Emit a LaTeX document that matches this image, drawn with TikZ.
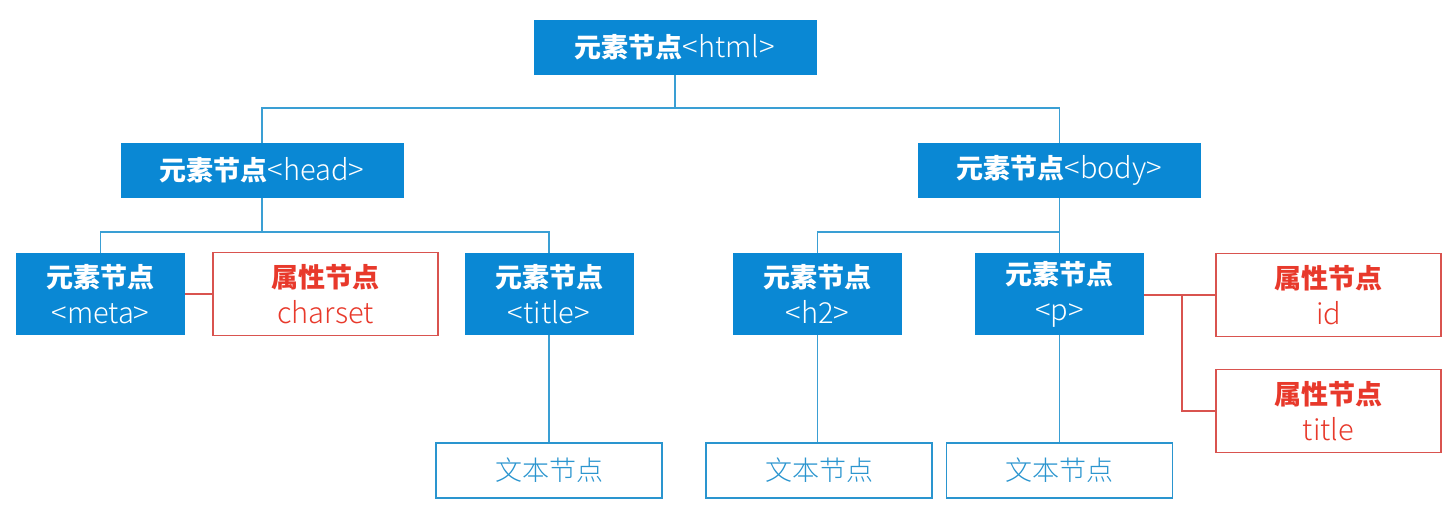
\documentclass[tikz,border=0pt]{standalone}
\usepackage{fontspec}
\setmainfont{Noto Sans CJK SC}
\newfontfamily\latfont{Noto Sans CJK SC Light}
\newcommand{\lat}[1]{{\latfont\fontsize{29}{35}\selectfont #1}}
\definecolor{elemblue}{HTML}{0A88D4}
\definecolor{lineblue}{HTML}{3A9FD4}
\definecolor{attrred}{HTML}{E8392B}
\definecolor{attrline}{HTML}{D9534F}
\definecolor{textblue}{HTML}{2A95CF}
\begin{document}
\begin{tikzpicture}[x=1pt,y=-1pt,
  base/.style={inner sep=0pt, align=center, font=\fontsize{27}{36}\selectfont},
  elem/.style={base, fill=elemblue, text=white},
  attr/.style={base, draw=attrline, line width=1.5pt, fill=white, text=attrred, minimum width=225pt, minimum height=83pt},
  textnode/.style={base, draw=textblue, line width=1.5pt, text=textblue, minimum width=226pt, minimum height=55pt},
  small/.style={minimum width=169pt, minimum height=82pt},
  wide/.style={minimum width=283pt, minimum height=55pt},
  bl/.style={draw=lineblue, line width=1.3pt},
  rl/.style={draw=attrline, line width=1.3pt}]
\useasboundingbox (0,0) rectangle (1453,510);
\fill[white] (0,0) rectangle (1453,510);
% nodes
\node[elem, wide] (html) at (675,47.5) {\textbf{元素节点}\lat{<html>}};
\node[elem, wide] (head) at (262,170.5) {\textbf{元素节点}\lat{<head>}};
\node[elem, wide] (body) at (1059.5,170.5) {\textbf{元素节点}\lat{<body>}};
\node[elem, small] (meta) at (100.5,294) {\textbf{元素节点}\\\lat{<meta>}};
\node[attr] (charset) at (325.5,294) {\textbf{属性节点}\\\lat{charset}};
\node[elem, small] (telem) at (549,294) {\textbf{元素节点}\\\lat{<title>}};
\node[elem, small] (h2) at (817.5,294) {\textbf{元素节点}\\\lat{<h2>}};
\node[elem, small] (p) at (1059.5,294) {\textbf{元素节点}\\\lat{<p>}};
\node[attr] (id) at (1328.5,295) {\textbf{属性节点}\\\lat{id}};
\node[attr] (tattr) at (1328.5,411) {\textbf{属性节点}\\\lat{title}};
\node[textnode] (t1) at (549,470.5) {{\latfont 文本节点}};
\node[textnode] (t2) at (819,470.5) {{\latfont 文本节点}};
\node[textnode] (t3) at (1059.5,470.5) {{\latfont 文本节点}};
% junctions
\coordinate (j1) at (675,108);
\coordinate (j2) at (262,232);
\coordinate (j3) at (1059.5,232);
\coordinate (j4) at (1182,295);
% blue connectors
\draw[bl] (html.south) -- (j1);
\draw[bl] (head.north) |- (j1) -| (body.north);
\draw[bl] (head.south) -- (j2);
\draw[bl] (meta.north) |- (j2) -| (telem.north);
\draw[bl] (body.south) -- (j3);
\draw[bl] (h2.north) |- (j3) -- (p.north);
\draw[bl] (telem.south) -- (t1.north);
\draw[bl] (h2.south) -- (h2.south |- t2.north);
\draw[bl] (p.south) -- (p.south |- t3.north);
% red connectors
\draw[rl] (meta.east) -- (charset.west);
\draw[rl] (p.east |- j4) -- (id.west);
\draw[rl] (j4) |- (tattr.west);
\end{tikzpicture}
\end{document}
